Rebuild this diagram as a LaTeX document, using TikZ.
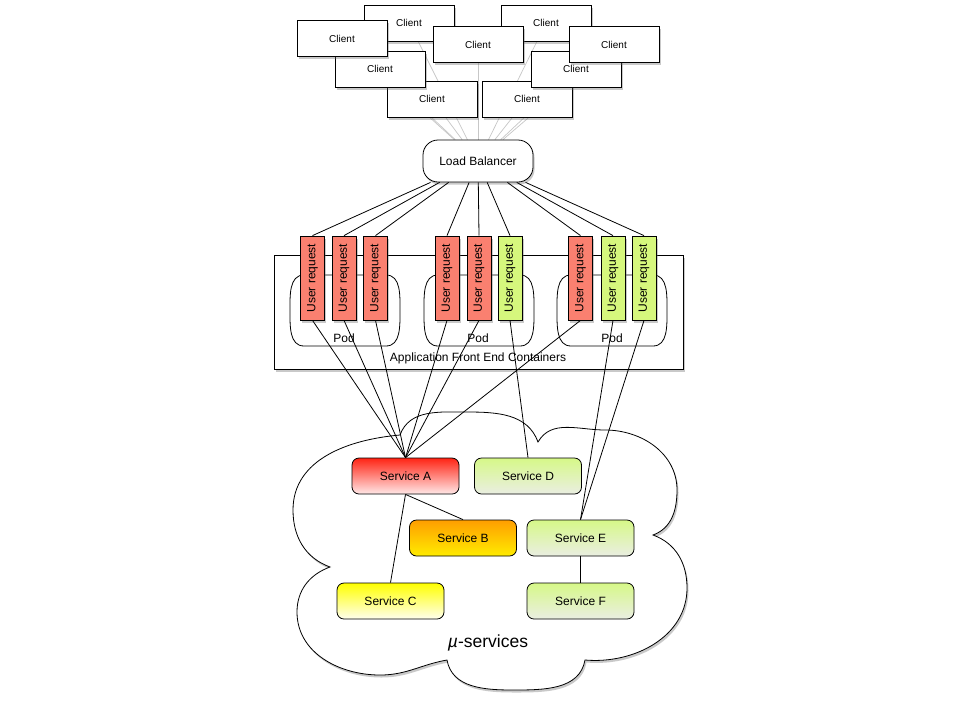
\documentclass[tikz,border=0pt]{standalone}
\usepackage{fontspec}
\setmainfont{Liberation Sans}
\usetikzlibrary{shadows}
\pgfdeclarelayer{bg}
\pgfsetlayers{bg,main}
\definecolor{urred}{RGB}{250,128,112}
\definecolor{urgreen}{RGB}{214,247,125}
\definecolor{aTop}{RGB}{255,36,20}
\definecolor{aBot}{RGB}{255,232,232}
\definecolor{bTop}{RGB}{255,158,0}
\definecolor{bBot}{RGB}{255,236,0}
\definecolor{cTop}{RGB}{255,255,0}
\definecolor{cBot}{RGB}{255,255,238}
\definecolor{gTop}{RGB}{214,248,136}
\definecolor{gBot}{RGB}{234,238,226}
\begin{document}
\begin{tikzpicture}[x=1pt,y=1pt,
  bx/.style={draw, line width=0.8pt, inner sep=0pt},
  shad/.style={drop shadow={shadow xshift=1.5pt, shadow yshift=-2.5pt, opacity=0.35, fill=black!60}},
  client/.style={bx, fill=white, minimum width=90pt, minimum height=36pt, font=\fontsize{10}{12}\selectfont, shad},
  ureq/.style={bx, minimum width=24pt, minimum height=84pt, font=\fontsize{12}{14}\selectfont, shad},
  svc/.style={bx, rounded corners=7pt, minimum width=107pt, minimum height=36pt, font=\fontsize{12}{14}\selectfont},
  wire/.style={line width=0.8pt},
  faint/.style={draw=black!22, line width=0.7pt},
  lbl/.style={font=\fontsize{12}{14}\selectfont, inner sep=0pt},
  podline/.style={draw, line width=0.8pt, fill=white}
]
\useasboundingbox (0,0) rectangle (960,-702);

% clients (back to front)
\node[client] (c8) at (432,-99) {Client};
\node[client] (c9) at (527,-99) {Client};
\node[client] (c6) at (380,-69) {Client};
\node[client] (c7) at (576,-69) {Client};
\node[client] (c1) at (409,-23) {Client};
\node[client] (c4) at (546,-23) {Client};
\node[client] (c2) at (342,-38.5) {Client};
\node[client] (c3) at (478,-44.5) {Client};
\node[client] (c5) at (614,-44.5) {Client};

% load balancer
\node[bx, fill=white, rounded corners=15pt, minimum width=110pt, minimum height=42pt,
      font=\fontsize{12}{14}\selectfont, shad] (lb) at (478,-161) {Load Balancer};

\begin{pgfonlayer}{bg}
\fill[white] (0,0) rectangle (960,-702);
\foreach \i in {1,...,9} \draw[faint] (c\i) -- (lb);
\end{pgfonlayer}

% container
\node[bx, fill=white, minimum width=409pt, minimum height=114pt, shad] (afe) at (478.5,-312) {};
\node[lbl] (afel) at (478,-358) {Application Front End Containers};

% pods
\foreach \dx in {0,134,267}{
  \begin{scope}[xshift=\dx pt]
  \draw[podline] (304,-275) -- (386,-275) to[out=0,in=90] (400,-311) to[out=-90,in=0] (386,-346)
     -- (304,-346) to[out=180,in=-90] (290,-311) to[out=90,in=180] cycle;
  \end{scope}
}
\node[lbl] (pod1) at (344,-338) {Pod};
\node[lbl] (pod2) at (478,-338) {Pod};
\node[lbl] (pod3) at (612,-338) {Pod};

% user requests
\node[ureq, fill=urred]   (u1) at (312.5,-278) {\rotatebox{90}{User request}};
\node[ureq, fill=urred]   (u2) at (344,-278)   {\rotatebox{90}{User request}};
\node[ureq, fill=urred]   (u3) at (375.5,-278) {\rotatebox{90}{User request}};
\node[ureq, fill=urred]   (u4) at (447,-278)   {\rotatebox{90}{User request}};
\node[ureq, fill=urred]   (u5) at (479,-278)   {\rotatebox{90}{User request}};
\node[ureq, fill=urgreen] (u6) at (510,-278)   {\rotatebox{90}{User request}};
\node[ureq, fill=urred]   (u7) at (580.5,-278) {\rotatebox{90}{User request}};
\node[ureq, fill=urgreen] (u8) at (613,-278)   {\rotatebox{90}{User request}};
\node[ureq, fill=urgreen] (u9) at (644,-278)   {\rotatebox{90}{User request}};

% cloud
\draw[line width=0.8pt, fill=white, shad]
  (400,-435) to[out=70,in=180] (467,-412) to[out=0,in=110] (538,-442)
  to[out=60,in=180] (605,-430) to[out=0,in=90] (677,-490) to[out=-90,in=20] (653,-535)
  to[out=-20,in=90] (687,-588) to[out=-90,in=-5] (585,-660)
  to[out=-100,in=0] (513,-690) to[out=180,in=-80] (447,-660)
  to[out=190,in=0] (380,-675) to[out=180,in=-90] (297,-612) to[out=90,in=200] (330,-567)
  to[out=160,in=-90] (293,-510) to[out=90,in=185] cycle;
\node[font=\fontsize{17.5}{20}\selectfont, inner sep=0pt] (mu) at (488,-643) {{\itshape µ}-services};

% services
\node[svc, top color=aTop, bottom color=aBot] (sA) at (405.5,-476) {Service A};
\node[svc, top color=gTop, bottom color=gBot] (sD) at (528,-476) {Service D};
\node[svc, top color=bTop, bottom color=bBot] (sB) at (463,-538) {Service B};
\node[svc, top color=gTop, bottom color=gBot] (sE) at (580.5,-538) {Service E};
\node[svc, top color=cTop, bottom color=cBot] (sC) at (390.5,-601) {Service C};
\node[svc, top color=gTop, bottom color=gBot] (sF) at (580.5,-601) {Service F};

% connectors
\foreach \i in {1,...,9} \draw[wire] (lb) -- (u\i.north);
\foreach \i in {1,2,3,4,5,7} \draw[wire] (u\i.south) -- (sA.north);
\draw[wire] (u6.south) -- (sD.north);
\draw[wire] (u8.south) -- (sE.north);
\draw[wire] (u9.south) -- (sE.north);
\draw[wire] (sA.south) -- (sB.north);
\draw[wire] (sA.south) -- (sC.north);
\draw[wire] (sE.south) -- (sF.north);
\end{tikzpicture}
\end{document}
